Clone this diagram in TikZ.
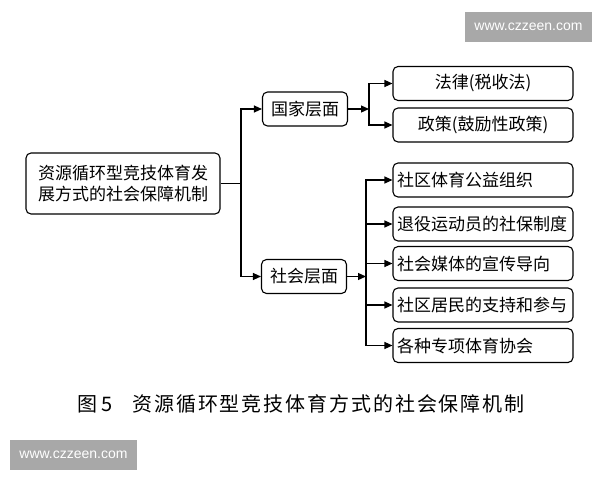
\documentclass[tikz,border=0pt]{standalone}
\usepackage{fontspec}
\setmainfont{Noto Sans CJK SC}
\newfontfamily\capfont[LetterSpace=9.5]{Noto Sans CJK SC}
\newfontfamily\wmfont{Liberation Sans}
\usetikzlibrary{arrows.meta}
\begin{document}
\begin{tikzpicture}[x=1pt,y=-1pt,
  box/.style={draw=black,line width=1.1pt,rounded corners=5pt,inner sep=0pt,
    font=\fontsize{17}{21}\selectfont},
  midbox/.style={box,minimum width=85pt,minimum height=34pt},
  rbox/.style={box,minimum width=180pt,minimum height=34pt},
  lbox/.style={box,text width=172pt,inner xsep=4pt,minimum height=34pt,align=left},
  arr/.style={line width=1.2pt,-{Triangle[length=8pt,width=7pt]}},
  ln/.style={line width=1.2pt},
  wm/.style={fill=black!34,text=white,inner sep=0pt,minimum width=127pt,minimum height=30pt,
    font=\wmfont\fontsize{14}{14}\selectfont}
]
\path[use as bounding box,fill=white] (0,0) rectangle (600,480);

\node[wm] (wmtop) at (528.5,27) {www.czzeen.com};
\node[wm] (wmbot) at (73.5,455) {www.czzeen.com};

\node[box,minimum width=194pt,minimum height=61pt,align=center] (main) at (123,183.5)
  {资源循环型竞技体育发\\展方式的社会保障机制};

\node[midbox] (gj) at (305,109) {国家层面};
\node[midbox] (sh) at (304,276.5) {社会层面};

\node[rbox] (law) at (483,83.5) {法律(税收法)};
\node[rbox] (pol) at (483,125) {政策(鼓励性政策)};

\node[lbox] (s1) at (483,180) {社区体育公益组织};
\node[lbox] (s2) at (483,224) {退役运动员的社保制度};
\node[lbox] (s3) at (483,263.5) {社会媒体的宣传导向};
\node[lbox] (s4) at (483,305) {社区居民的支持和参与};
\node[lbox] (s5) at (483,345.5) {各种专项体育协会};

\coordinate (j1) at (241,183.5);
\coordinate (j2) at (369,109);
\coordinate (j3) at (366,276.5);

\draw[ln] (main.east) -- (j1);
\draw[arr] (j1) |- (gj.west);
\draw[arr] (j1) |- (sh.west);

\draw[arr] (gj.east) -- (j2);
\draw[arr] (j2) |- (law.west);
\draw[arr] (j2) |- (pol.west);

\draw[arr] (sh.east) -- (j3);
\draw[arr] (j3) |- (s1.west);
\draw[arr] (j3) |- (s2.west);
\draw[arr] (j3) |- (s3.west);
\draw[arr] (j3) |- (s4.west);
\draw[arr] (j3) |- (s5.west);

\node[anchor=west,inner sep=0pt,font=\capfont\fontsize{20}{20}\selectfont] (cap) at (77,404)
  {图\hspace{4pt}5\hspace{20pt}资源循环型竞技体育方式的社会保障机制};
\end{tikzpicture}
\end{document}
